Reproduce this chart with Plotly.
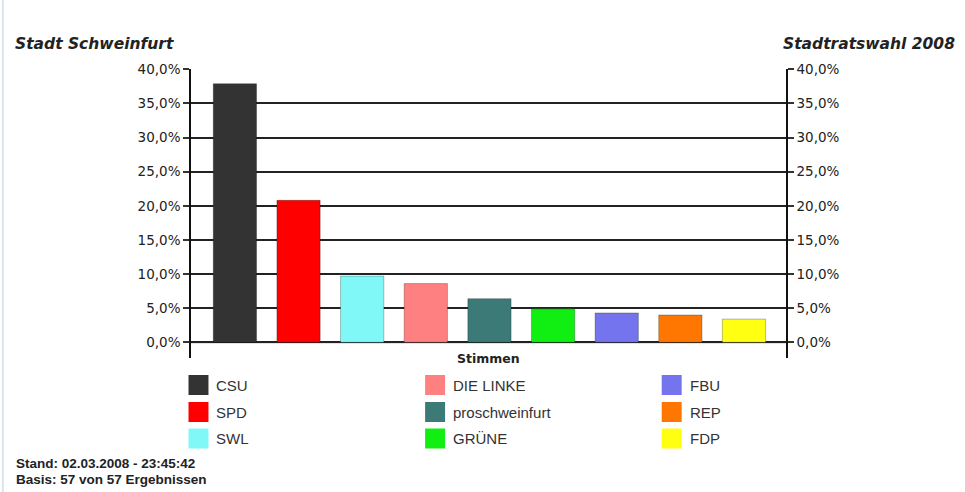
import plotly.graph_objects as go

parties = ["CSU", "SPD", "SWL", "DIE LINKE", "proschweinfurt", "GRÜNE", "FBU", "REP", "FDP"]
shares = [37.9, 20.8, 9.7, 8.6, 6.4, 4.9, 4.3, 4.0, 3.4]
colors = ["#333333", "#ff0000", "#80f8f8", "#ff8080", "#3b7a77", "#11ee11", "#7474ee", "#ff7700", "#ffff11"]
tick_vals = [0, 5, 10, 15, 20, 25, 30, 35, 40]
tick_text = ["0,0%", "5,0%", "10,0%", "15,0%", "20,0%", "25,0%", "30,0%", "35,0%", "40,0%"]
gray_grid_vals = [0, 10]

W, H = 965, 492
L, R, T, B = 190.5, 786.5, 69, 358

fig = go.Figure()
fig.add_trace(go.Bar(
    x=list(range(len(parties))), y=shares, width=0.68,
    marker=dict(color=colors, line=dict(color="rgba(0,0,0,0.25)", width=1)),
    showlegend=False, hoverinfo="y"))
fig.add_trace(go.Scatter(x=[0], y=[0], yaxis="y2", mode="markers",
                         marker=dict(opacity=0), showlegend=False, hoverinfo="skip"))

axis_font = dict(family="DejaVu Sans", size=13.5, color="#222")
yax = dict(range=[-2.3, 40.05], tickvals=tick_vals, ticktext=tick_text,
           showgrid=True, gridcolor="#222", gridwidth=1.6, zeroline=False,
           showline=True, linecolor="#111", linewidth=1.6,
           ticks="outside", ticklen=6, tickcolor="#333", tickwidth=1.6,
           tickfont=axis_font, fixedrange=True)

fig.update_layout(
    width=W, height=H, autosize=False,
    margin=dict(l=L, r=W - R, t=T, b=H - B),
    paper_bgcolor="white", plot_bgcolor="white",
    xaxis=dict(range=[-0.69, 8.66], showticklabels=False, showgrid=False,
               zeroline=False, showline=False, ticks="", fixedrange=True),
    yaxis=dict(**yax, side="left"),
    yaxis2=dict(**yax, side="right", overlaying="y"),
)

def px_x(v):
    return (v - L) / (R - L)

def px_y(v):
    return (B - v) / (B - T)

ann = []
title_font = dict(family="DejaVu Sans", size=15.5, color="#222")
ann.append(dict(text="<b><i>Stadt Schweinfurt</i></b>", x=px_x(12), y=px_y(44),
                xref="paper", yref="paper", xanchor="left", yanchor="middle",
                showarrow=False, font=title_font))
ann.append(dict(text="<b><i>Stadtratswahl 2008</i></b>", x=px_x(958), y=px_y(44),
                xref="paper", yref="paper", xanchor="right", yanchor="middle",
                showarrow=False, font=title_font))
ann.append(dict(text="<b>Stimmen</b>", x=px_x(488), y=px_y(358),
                xref="paper", yref="paper", xanchor="center", yanchor="middle",
                showarrow=False, font=dict(family="DejaVu Sans", size=12.5, color="#222")))
foot_font = dict(family="Liberation Sans", size=13.5, color="#222")
ann.append(dict(text="<b>Stand: 02.03.2008 - 23:45:42</b>", x=px_x(13), y=px_y(463),
                xref="paper", yref="paper", xanchor="left", yanchor="middle",
                showarrow=False, font=foot_font))
ann.append(dict(text="<b>Basis: 57 von 57 Ergebnissen</b>", x=px_x(13), y=px_y(479),
                xref="paper", yref="paper", xanchor="left", yanchor="middle",
                showarrow=False, font=foot_font))

shapes = []
for v in gray_grid_vals:
    shapes.append(dict(type="line", xref="paper", yref="y", x0=0, x1=1, y0=v, y1=v,
                       layer="below", line=dict(color="#8a8a8a", width=2)))

col_x = [188, 425, 662]
row_y = [385, 412, 438.5]
for i, (name, c) in enumerate(zip(parties, colors)):
    cx = col_x[i // 3]
    cy = row_y[i % 3]
    shapes.append(dict(type="rect", xref="paper", yref="paper",
                       x0=px_x(cx), x1=px_x(cx + 20), y0=px_y(cy - 10), y1=px_y(cy + 10),
                       fillcolor=c, line=dict(width=0)))
    ann.append(dict(text=name, x=px_x(cx + 26), y=px_y(cy),
                    xref="paper", yref="paper", xanchor="left", yanchor="middle",
                    showarrow=False, font=dict(family="Liberation Sans", size=15, color="#333")))

shapes.append(dict(type="line", xref="paper", yref="paper",
                   x0=px_x(2), x1=px_x(2), y0=px_y(0), y1=px_y(492),
                   line=dict(color="#d8e4f0", width=2)))

fig.update_layout(annotations=ann, shapes=shapes)
fig.write_html("out.html", config={"displayModeBar": False},
               post_script="document.body.style.margin='0';")
